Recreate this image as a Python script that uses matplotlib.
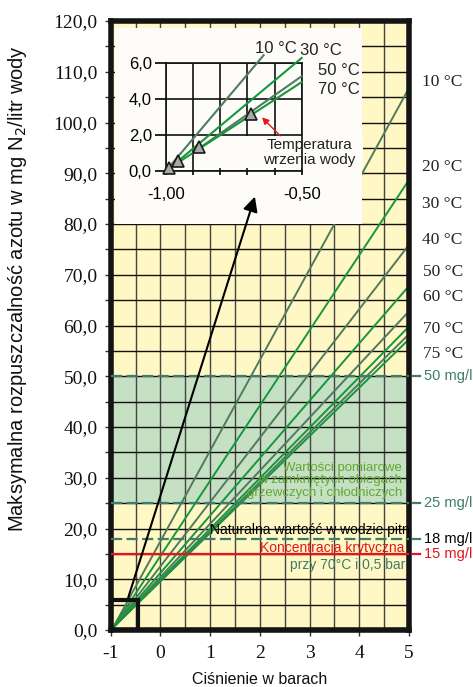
import numpy as np
import matplotlib
matplotlib.use("Agg")
import matplotlib.pyplot as plt
from matplotlib.patches import Rectangle
from matplotlib.ticker import FuncFormatter, MultipleLocator

plt.rcParams['font.family'] = ['Liberation Sans', 'DejaVu Sans']

# ---------------- data ----------------
temps = ["10 °C", "20 °C", "30 °C", "40 °C", "50 °C", "60 °C", "70 °C", "75 °C"]
line_x_start = [-0.95, -0.95, -0.95, -0.95, -0.95, -0.95, -0.95, -0.95]
line_y_start = [0.5, 0.5, 0.5, 0.5, 0.5, 0.5, 0.5, 0.5]
line_x_end = [5, 5, 5, 5, 5, 5, 5, 5]
line_y_end = [106.8, 88.7, 75.9, 67.8, 62.8, 59.8, 58.3, 57.3]
label_y = [108.0, 91.2, 83.9, 76.8, 70.5, 65.7, 59.4, 54.4]
label_x = [5.26, 5.26, 5.26, 5.26, 5.29, 5.29, 5.29, 5.29]

ref_levels = [50, 25, 18, 15]
ref_labels = ["50 mg/l", "25 mg/l", "18 mg/l", "15 mg/l"]

inset_temps = ["10 °C", "30 °C", "50 °C", "70 °C"]
inset_x0 = [-0.988, -0.985, -0.865, -0.965]
inset_y0 = [0.19, 0.15, 1.38, 0.35]
inset_x1 = [-0.64, -0.50, -0.50, -0.50]
inset_y1 = [6.45, 6.30, 5.28, 4.95]
inset_label_x = [-0.671, -0.506, -0.44, -0.44]
inset_label_y = [6.85, 6.74, 5.57, 4.54]
boil_x = [-0.988, -0.955, -0.878, -0.688]
boil_y = [0.17, 0.56, 1.31, 3.15]

yticks = np.arange(0, 121, 10)
xticks = np.arange(-1, 6, 1)

# ---------------- colours ----------------
YELLOW = '#fff8c4'
BAND = '#c6e0c3'
GRAYGREEN = '#4f7b5f'
GREEN = '#16973c'
TEAL = '#3e7c6b'
RED = '#e8141c'
TXTGREEN = '#62a832'
line_colors = [GRAYGREEN, GREEN, GRAYGREEN, GREEN, GRAYGREEN, GREEN, GRAYGREEN, GREEN]
inset_colors = [GRAYGREEN, GREEN, GRAYGREEN, GREEN]
ref_colors = [TEAL, TEAL, TEAL, RED]
ref_label_colors = [TEAL, TEAL, 'black', RED]
ref_styles = [(0, (5, 2)), (0, (5, 2)), (0, (5, 2)), '-']

W, H = 473, 687
fig = plt.figure(figsize=(W / 100, H / 100), dpi=100)
fig.patch.set_facecolor('white')

ax = fig.add_axes([110.7 / W, 1 - 630 / H, (409 - 110.7) / W, (630 - 21) / H])
ax.set_xlim(-1, 5)
ax.set_ylim(0, 120)
ax.set_facecolor(YELLOW)
ax.set_axisbelow(True)

ax.axhspan(25, 50, color=BAND, zorder=0.2, lw=0)

ax.set_xticks(xticks)
ax.xaxis.set_minor_locator(MultipleLocator(0.5))
ax.set_yticks(yticks)
ax.yaxis.set_minor_locator(MultipleLocator(5))
ax.grid(which='both', axis='y', color='#111111', lw=1.0)
ax.grid(which='both', axis='x', color='#444444', lw=1.0)
ax.yaxis.set_major_formatter(FuncFormatter(lambda v, p: f"{v:.1f}".replace('.', ',')))
ax.xaxis.set_major_formatter(FuncFormatter(lambda v, p: f"{int(v)}"))
ax.tick_params(axis='both', which='major', direction='out', length=4.5, width=1,
               color='#333333', labelsize=14)
ax.tick_params(axis='y', which='minor', direction='out', length=4.5, width=1, color='#333333')
ax.tick_params(axis='x', which='minor', length=0)
ax.tick_params(axis='y', pad=5)
ax.tick_params(axis='x', pad=6)
for lab in ax.get_xticklabels() + ax.get_yticklabels():
    lab.set_fontfamily('Liberation Serif')
    lab.set_color('#111111')
for s in ax.spines.values():
    s.set_linewidth(4)
    s.set_color('#141414')

# main lines
for i in range(len(temps)):
    ax.plot([line_x_start[i], line_x_end[i]], [line_y_start[i], line_y_end[i]],
            color=line_colors[i], lw=1.4, zorder=2, solid_capstyle='butt')
    ax.text(label_x[i], label_y[i], temps[i], fontsize=12.5, family='Liberation Serif',
            color='#222222', ha='left', va='center', clip_on=False)

# reference lines
for i in range(len(ref_levels)):
    ax.plot([-1, 5], [ref_levels[i]] * 2, color=ref_colors[i], lw=1.6,
            linestyle=ref_styles[i], zorder=3)
    ax.plot([5.08, 5.22], [ref_levels[i]] * 2, color=ref_colors[i], lw=1.6,
            zorder=3, clip_on=False)
    ax.text(5.30, ref_levels[i], ref_labels[i], fontsize=10.5, color=ref_label_colors[i],
            ha='left', va='center', clip_on=False)

# annotations
ax.text(4.86, 29.5, "Wartości pomiarowe\nw zamkniętych obiegach\ngrzewczych i chłodniczych",
        fontsize=9.5, color=TXTGREEN, ha='right', va='center', linespacing=1.05, zorder=4)
ax.text(1.0, 19.7, "Naturalna wartość w wodzie pitnej", fontsize=10, color='black',
        ha='left', va='center', clip_on=True, zorder=4)
ax.text(4.90, 16.1, "Koncentracja krytyczna", fontsize=10, color=RED,
        ha='right', va='center', zorder=4)
ax.text(4.92, 12.8, "przy 70°C i 0,5 bar", fontsize=10, color=TEAL,
        ha='right', va='center', zorder=4)

# small zoom box
ax.add_patch(Rectangle((-1, 0), 0.55, 6, fill=False, lw=3, edgecolor='#111111', zorder=3))

# white inset background
ax.add_patch(Rectangle((-0.913, 80.0), 4.969, 38.6, facecolor='#fdfcf9', edgecolor='none',
                       zorder=5))

# arrow
ax.annotate('', xy=(1.90, 85.4), xytext=(-0.65, 6.3),
            arrowprops=dict(arrowstyle='-|>', color='black', lw=1.5, mutation_scale=22,
                            shrinkA=0, shrinkB=0), zorder=6)

# axis labels
fig.text(18 / W, 1 - 289 / H, "Maksymalna rozpuszczalność azotu w mg N$_2$/litr wody",
         rotation=90, ha='center', va='center', fontsize=14.5, color='#111111')
fig.text(260 / W, 1 - 680 / H, "Ciśnienie w barach", ha='center', va='center',
         fontsize=11.5, color='#111111')

# ---------------- inset ----------------
ins = fig.add_axes([165.7 / W, 1 - 170.7 / H, 136 / W, (170.7 - 63.3) / H])
ins.set_facecolor('none')
ins.set_xlim(-1.0, -0.5)
ins.set_ylim(0, 6)
ins.set_xticks(np.linspace(-1.0, -0.5, 6))
ins.set_xticklabels(['-1,00', '', '', '', '', '-0,50'])
ins.set_yticks([0, 2, 4, 6])
ins.set_yticklabels(['0,0', '2,0', '4,0', '6,0'])
ins.grid(True, color='#111111', lw=1.2)
ins.set_axisbelow(True)
ins.tick_params(axis='y', direction='out', length=8, width=1.2, pad=2, labelsize=12)
ins.tick_params(axis='x', direction='out', length=3, width=1.2, pad=9, labelsize=12)
for s in ins.spines.values():
    s.set_linewidth(1.2)
    s.set_color('#111111')

# text box covering grid
ins.add_patch(Rectangle((-0.813, 0.15), 0.537, 1.78, facecolor='#fdfcf9', edgecolor='none',
                        zorder=1.5, clip_on=False))
for i in range(len(inset_temps)):
    ins.plot([inset_x0[i], inset_x1[i]], [inset_y0[i], inset_y1[i]], color=inset_colors[i],
             lw=1.5, zorder=3, clip_on=False)
    ins.text(inset_label_x[i], inset_label_y[i], inset_temps[i], fontsize=12, color='#222222',
             ha='left', va='center', clip_on=False)
ins.plot(boil_x, boil_y, linestyle='none', marker='^', markersize=8, markerfacecolor='#a8a8a8',
         markeredgecolor='#1a1a1a', markeredgewidth=1.2, zorder=4, clip_on=False)
ins.text(-0.473, 1.22, "Temperatura", fontsize=11, color='#222222', ha='center',
         va='baseline', clip_on=False, zorder=5)
ins.text(-0.473, 0.38, "wrzenia wody", fontsize=11, color='#222222', ha='center',
         va='baseline', clip_on=False, zorder=5)
ins.annotate('', xy=(-0.646, 2.98), xytext=(-0.579, 1.95),
             arrowprops=dict(arrowstyle='-|>', color=RED, lw=1.0, mutation_scale=10,
                             shrinkA=0, shrinkB=0), zorder=5)

fig.savefig('out.png', dpi=100)
